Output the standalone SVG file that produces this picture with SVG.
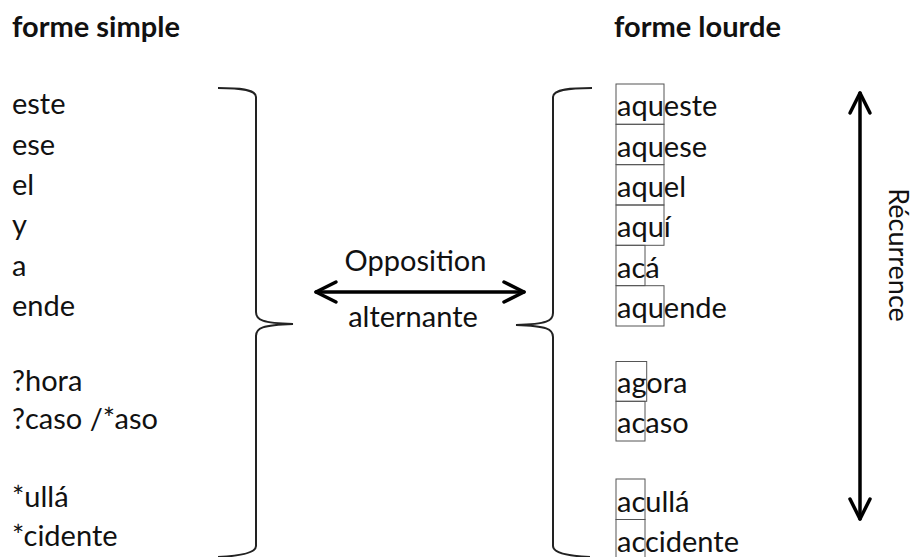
<svg xmlns="http://www.w3.org/2000/svg" width="916" height="557" viewBox="0 0 916 557">
<style>
text{font-family:Lato,"Open Sans","Liberation Sans",sans-serif;font-size:29px;fill:#111}
.h{font-weight:bold}
.box{fill:none;stroke:#555;stroke-width:1}
.brace{fill:none;stroke:#222;stroke-width:2}
.arr{fill:none;stroke:#000;stroke-width:3.5;stroke-linecap:round;stroke-linejoin:round}
</style>
<rect width="916" height="557" fill="#fff"/>
<g id="headers">
<text class="h" x="12" y="37">forme simple</text>
<text class="h" x="614" y="37">forme lourde</text>
</g>
<g id="simple">
<text x="12" y="114">este</text>
<text x="12" y="155">ese</text>
<text x="12" y="195">el</text>
<text x="12" y="235">y</text>
<text x="12" y="276">a</text>
<text x="12" y="316">ende</text>
<text x="12" y="391">?hora</text>
<text x="12" y="429">?caso /*aso</text>
<text x="12" y="507">*ullá</text>
<text x="12" y="546">*cidente</text>
</g>
<g id="lourde">
<rect class="box" x="616" y="84" width="48" height="40.3"/>
<rect class="box" x="616" y="124.3" width="48" height="40.3"/>
<rect class="box" x="616" y="164.7" width="48" height="40.3"/>
<rect class="box" x="616" y="205" width="48" height="40.3"/>
<rect class="box" x="616" y="245.3" width="29" height="40.3"/>
<rect class="box" x="616" y="285.7" width="48" height="40.3"/>
<rect class="box" x="616" y="361.5" width="30.7" height="39.8"/>
<rect class="box" x="616" y="401.3" width="29" height="39.7"/>
<rect class="box" x="616" y="479" width="29" height="40.5"/>
<rect class="box" x="616" y="519.5" width="29" height="40.5"/>
<text x="617" y="116.3">aqueste</text>
<text x="617" y="156.7">aquese</text>
<text x="617" y="197">aquel</text>
<text x="617" y="237.3">aquí</text>
<text x="617" y="277.7">acá</text>
<text x="617" y="318">aquende</text>
<text x="617" y="393.3">agora</text>
<text x="617" y="433">acaso</text>
<text x="617" y="511.5">acullá</text>
<text x="617" y="552">accidente</text>
</g>
<g id="connectors">
<path id="brace-left" class="brace" d="M218,88 C238,88 256,89 256,97 L256,312 C256,320 262,323 293,324 C262,325 256,328 256,336 L256,546 C256,553 240,556 218,557"/>
<path id="brace-right" class="brace" d="M592,88 C572,88 553,89 553,97 L553,313 C553,321 547,324 516,325 C547,326 553,329 553,337 L553,546 C553,553 568,556 590,557"/>
<g id="opposition">
<line class="arr" x1="316" y1="292" x2="524" y2="292"/>
<polyline class="arr" points="336,282 316,292 336,302"/>
<polyline class="arr" points="504,282 524,292 504,302"/>
<text x="415.5" y="271" text-anchor="middle">Opposition</text>
<text x="413" y="327" text-anchor="middle">alternante</text>
</g>
<g id="recurrence">
<line class="arr" x1="860" y1="93" x2="860" y2="519"/>
<polyline class="arr" points="850,113 860,93 870,113"/>
<polyline class="arr" points="850,499 860,519 870,499"/>
<text transform="translate(889,255) rotate(90)" text-anchor="middle" style="font-size:27px">Récurrence</text>
</g>
</g>
</svg>
